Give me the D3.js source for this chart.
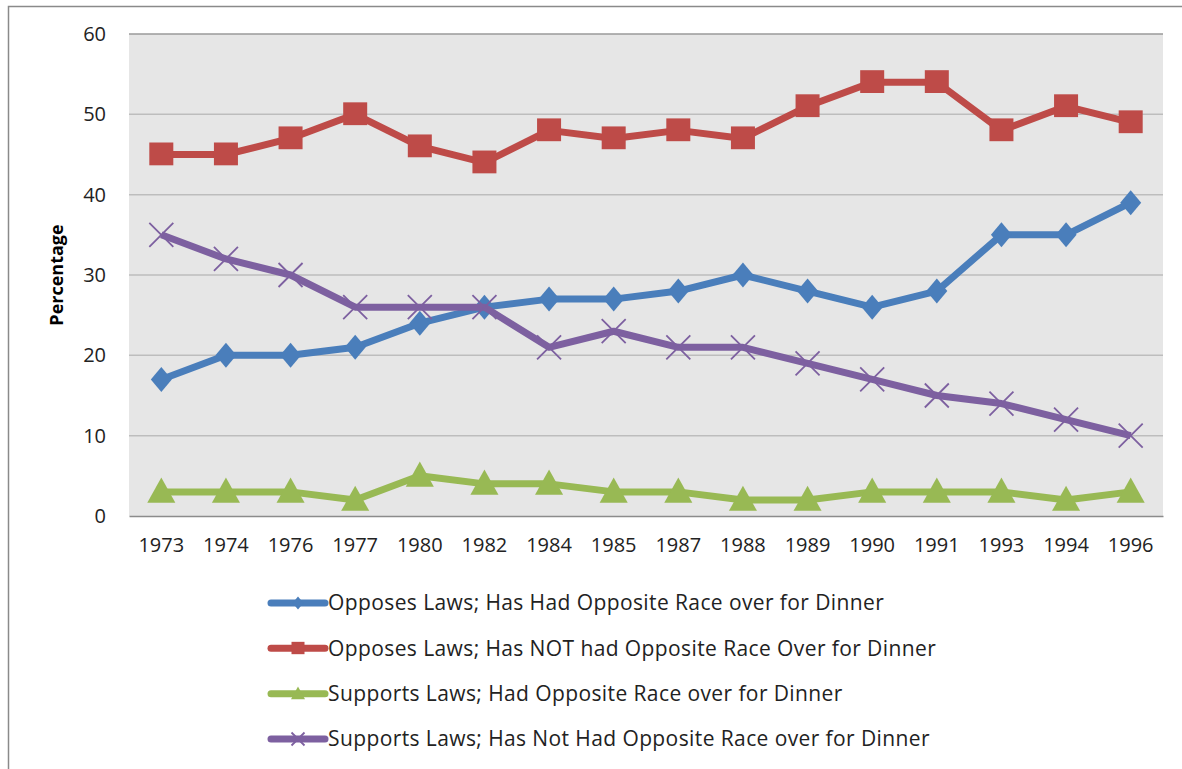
<!DOCTYPE html>
<html lang="en">
<head>
    <meta charset="UTF-8">
    <title>Percentage by year</title>
    <script src="https://d3js.org/d3.v7.min.js"></script>
    <style>
        body { margin: 0; background: #ffffff; }
        svg { display: block; font-family: "Open Sans", sans-serif; }
        .tick text { fill: #222; }
    </style>
</head>
<body>
<svg id="chart" width="1182" height="769"></svg>
<script>
    // Data
    const years = ["1973", "1974", "1976", "1977", "1980", "1982", "1984", "1985",
                   "1987", "1988", "1989", "1990", "1991", "1993", "1994", "1996"];
    const opposesHad    = [17, 20, 20, 21, 24, 26, 27, 27, 28, 30, 28, 26, 28, 35, 35, 39];
    const opposesNotHad = [45, 45, 47, 50, 46, 44, 48, 47, 48, 47, 51, 54, 54, 48, 51, 49];
    const supportsHad   = [3, 3, 3, 2, 5, 4, 4, 3, 3, 2, 2, 3, 3, 3, 2, 3];
    const supportsNotHad = [35, 32, 30, 26, 26, 26, 21, 23, 21, 21, 19, 17, 15, 14, 12, 10];
    const yTicks = [0, 10, 20, 30, 40, 50, 60];

    const series = [
        { name: "Opposes Laws; Has Had Opposite Race over for Dinner", values: opposesHad, color: "#4a7ebb", marker: "diamond" },
        { name: "Opposes Laws; Has NOT had Opposite Race Over for Dinner", values: opposesNotHad, color: "#be4b48", marker: "square" },
        { name: "Supports Laws; Had Opposite Race over for Dinner", values: supportsHad, color: "#98b954", marker: "triangle" },
        { name: "Supports Laws; Has Not Had Opposite Race over for Dinner", values: supportsNotHad, color: "#7d60a0", marker: "cross" }
    ];

    const svg = d3.select("#chart");

    // outer chart border
    svg.append("rect")
        .attr("x", 8.5).attr("y", 6.5)
        .attr("width", 1190).attr("height", 780)
        .attr("fill", "none")
        .attr("stroke", "#8a8a8a")
        .attr("stroke-width", 1.5);

    const plot = { left: 129, right: 1163, top: 34, bottom: 516 };

    const x = d3.scaleBand()
        .domain(years)
        .range([plot.left, plot.right]);

    const y = d3.scaleLinear()
        .domain([0, 60])
        .range([plot.bottom, plot.top]);

    // plot background
    svg.append("rect")
        .attr("x", plot.left).attr("y", plot.top)
        .attr("width", plot.right - plot.left)
        .attr("height", plot.bottom - plot.top)
        .attr("fill", "#e6e6e6");

    // gridlines
    svg.append("g")
        .selectAll("line")
        .data(yTicks.filter(d => d > 0))
        .enter().append("line")
        .attr("x1", plot.left).attr("x2", plot.right)
        .attr("y1", d => y(d)).attr("y2", d => y(d))
        .attr("stroke", d => d === 60 ? "#9a9a9a" : "#bdbdbd")
        .attr("stroke-width", 1.5);

    // y axis labels
    const yAxis = svg.append("g")
        .attr("transform", `translate(${plot.left},0)`)
        .call(d3.axisLeft(y).tickValues(yTicks).tickSize(0).tickPadding(23));
    yAxis.attr("font-family", null);
    yAxis.select(".domain").remove();
    yAxis.selectAll("text").style("font-size", "20px");

    // x axis
    const xAxis = svg.append("g")
        .attr("transform", `translate(0,${plot.bottom})`)
        .call(d3.axisBottom(x).tickSize(0).tickPadding(22));
    xAxis.attr("font-family", null);
    xAxis.select(".domain").attr("stroke", "#8c8c8c").attr("stroke-width", 1.5);
    xAxis.selectAll("text").style("font-size", "20px");

    // y axis title
    svg.append("text")
        .attr("transform", `translate(63,275) rotate(-90)`)
        .attr("text-anchor", "middle")
        .style("font-size", "18px")
        .style("font-weight", "bold")
        .text("Percentage");

    const cx = (d, i) => x(years[i]) + x.bandwidth() / 2;

    const line = d3.line()
        .x((d, i) => cx(d, i))
        .y(d => y(d));

    function drawMarker(g, type, color, size) {
        if (type === "diamond") {
            const w = size * 0.42, h = size * 0.5;
            g.append("path")
                .attr("d", `M0,${-h}L${w},0L0,${h}L${-w},0Z`)
                .attr("fill", color);
        } else if (type === "square") {
            g.append("rect")
                .attr("x", -size / 2).attr("y", -size / 2)
                .attr("width", size).attr("height", size * 0.95)
                .attr("fill", color);
        } else if (type === "triangle") {
            g.append("path")
                .attr("d", `M0,${-size * 0.55}L${size * 0.54},${size * 0.42}L${-size * 0.54},${size * 0.42}Z`)
                .attr("fill", color);
        } else if (type === "cross") {
            const h = size / 2;
            g.append("path")
                .attr("d", `M${-h},${-h}L${h},${h}M${-h},${h}L${h},${-h}`)
                .attr("stroke", color)
                .attr("stroke-width", 1.8)
                .attr("fill", "none");
        }
    }

    const markerSize = { diamond: 25, square: 24, triangle: 26, cross: 24 };

    series.forEach(s => {
        svg.append("path")
            .datum(s.values)
            .attr("d", line)
            .attr("fill", "none")
            .attr("stroke", s.color)
            .attr("stroke-width", 7)
            .attr("stroke-linejoin", "round");

        svg.append("g")
            .selectAll("g")
            .data(s.values)
            .enter().append("g")
            .attr("transform", (d, i) => `translate(${cx(d, i)},${y(d)})`)
            .each(function () {
                drawMarker(d3.select(this), s.marker, s.color, markerSize[s.marker]);
            });
    });

    // legend
    const legendY = d3.scalePoint()
        .domain(series.map(s => s.name))
        .range([603, 739]);

    const legend = svg.append("g")
        .selectAll("g")
        .data(series)
        .enter().append("g")
        .attr("transform", d => `translate(271,${legendY(d.name)})`);

    legend.append("line")
        .attr("x1", 0).attr("x2", 54)
        .attr("stroke", d => d.color)
        .attr("stroke-width", 7)
        .attr("stroke-linecap", "round");

    legend.append("g")
        .attr("transform", "translate(27,0)")
        .each(function (d) {
            drawMarker(d3.select(this), d.marker, d.color, 13);
        });

    legend.append("text")
        .attr("x", 57)
        .attr("dy", "0.35em")
        .style("font-size", "21px")
        .style("letter-spacing", "0.4px")
        .style("fill", "#222")
        .text(d => d.name);
</script>
</body>
</html>
